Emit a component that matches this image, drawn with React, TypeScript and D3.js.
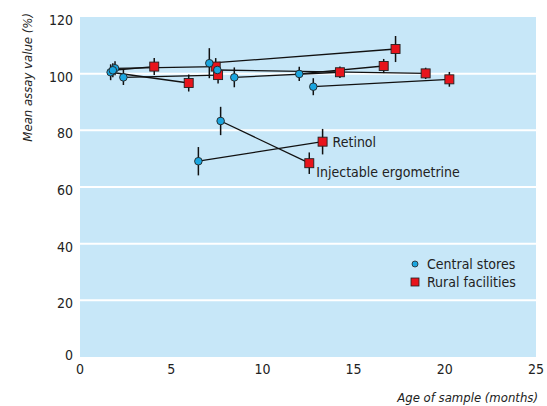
import * as d3 from 'd3'

// one entry per drug: central store sample -> rural facility sample
const drugNames = ['', '', '', '', '', '', '', '', '', 'Retinol', 'Injectable ergometrine']
const centralAge = [1.68, 1.92, 1.8, 2.38, 7.09, 7.53, 8.46, 12.02, 12.79, 6.49, 7.71]
const centralValue = [100.5, 101.9, 101.2, 98.7, 103.7, 101.3, 98.7, 99.9, 95.4, 69.1, 83.3]
const centralErr = [2.8, 2.5, 2.5, 2.7, 5.3, 2, 3.5, 2.5, 3, 5, 5]
const ruralAge = [5.96, 7.44, 4.07, 7.57, 17.3, 18.95, 14.25, 16.65, 20.25, 13.3, 12.57]
const ruralValue = [96.7, 102.5, 102.5, 99.5, 108.7, 100.1, 100.5, 102.7, 98, 76.0, 68.4]
const ruralErr = [3, 3, 3, 3, 4.6, 2, 2, 2.5, 2.6, 4.5, 3.8]

const xTicks = [0, 5, 10, 15, 20, 25]
const yTicks = [0, 20, 40, 60, 80, 100, 120]

const W = 547
const H = 406
const margin = { top: 17, right: 11, bottom: 49, left: 80 }
const font = '"Liberation Sans Narrow", "Arial Narrow", "DejaVu Sans Condensed", sans-serif'
const BLUE = '#1aa6e0'
const RED = '#e8141c'
const BG = '#c7e7f8'

export default function App() {
  const x = d3.scaleLinear().domain([0, 25]).range([margin.left, W - margin.right])
  const y = d3.scaleLinear().domain([0, 120]).range([H - margin.bottom, margin.top])

  const idx = d3.range(centralAge.length)

  return (
    <svg width={W} height={H} style={{ position: 'absolute', left: 0, top: 0, fontFamily: font }}>
      <rect x={x(0)} y={y(120)} width={x(25) - x(0)} height={y(0) - y(120)} fill={BG} />

      {/* gridlines */}
      {yTicks.filter(t => t > 0 && t < 120).map(t => (
        <line key={t} x1={x(0)} x2={x(25)} y1={y(t)} y2={y(t)} stroke="#fff" strokeWidth={2} />
      ))}

      {/* tick labels */}
      {yTicks.map(t => (
        <text key={t} x={73} y={y(t) + (t === 0 ? 3 : 8)} textAnchor="end" fontSize={14} fill="#222">{t}</text>
      ))}
      {xTicks.map(t => (
        <text key={t} x={x(t)} y={374} textAnchor="middle" fontSize={14} fill="#222">{t}</text>
      ))}

      {/* axis titles */}
      <text transform="translate(32,13) rotate(-90)" textAnchor="end" fontSize={13} fontStyle="italic" fill="#222">
        Mean assay value (%)
      </text>
      <text x={538} y={402} textAnchor="end" fontSize={13} fontStyle="italic" fill="#222">
        Age of sample (months)
      </text>

      {/* connecting lines */}
      {idx.map(i => (
        <line key={i} x1={x(centralAge[i])} y1={y(centralValue[i])} x2={x(ruralAge[i])} y2={y(ruralValue[i])}
          stroke="#111" strokeWidth={1.3} />
      ))}

      {/* error bars */}
      {idx.map(i => (
        <g key={i} stroke="#111" strokeWidth={1.5}>
          <line x1={x(ruralAge[i])} x2={x(ruralAge[i])} y1={y(ruralValue[i] - ruralErr[i])} y2={y(ruralValue[i] + ruralErr[i])} />
          <line x1={x(centralAge[i])} x2={x(centralAge[i])} y1={y(centralValue[i] - centralErr[i])} y2={y(centralValue[i] + centralErr[i])} />
        </g>
      ))}

      {/* rural squares */}
      {idx.map(i => (
        <rect key={i} x={x(ruralAge[i]) - 4.5} y={y(ruralValue[i]) - 4.5} width={9} height={9}
          fill={RED} stroke="#222" strokeWidth={0.9} />
      ))}
      {/* central circles */}
      {idx.map(i => (
        <circle key={i} cx={x(centralAge[i])} cy={y(centralValue[i])} r={3.8}
          fill={BLUE} stroke="#222" strokeWidth={0.9} />
      ))}

      {/* drug labels */}
      <text x={x(ruralAge[9]) + 10} y={y(ruralValue[9]) + 5} fontSize={14} fill="#222">{drugNames[9]}</text>
      <text x={x(ruralAge[10]) + 7} y={y(ruralValue[10]) + 14} fontSize={14} fill="#222">{drugNames[10]}</text>

      {/* legend */}
      <circle cx={415} cy={264} r={3} fill={BLUE} stroke="#222" strokeWidth={0.8} />
      <text x={427} y={269} fontSize={14} fill="#222">Central stores</text>
      <rect x={411} y={278} width={8} height={8} fill={RED} stroke="#222" strokeWidth={0.8} />
      <text x={427} y={287} fontSize={14} fill="#222">Rural facilities</text>
    </svg>
  )
}
